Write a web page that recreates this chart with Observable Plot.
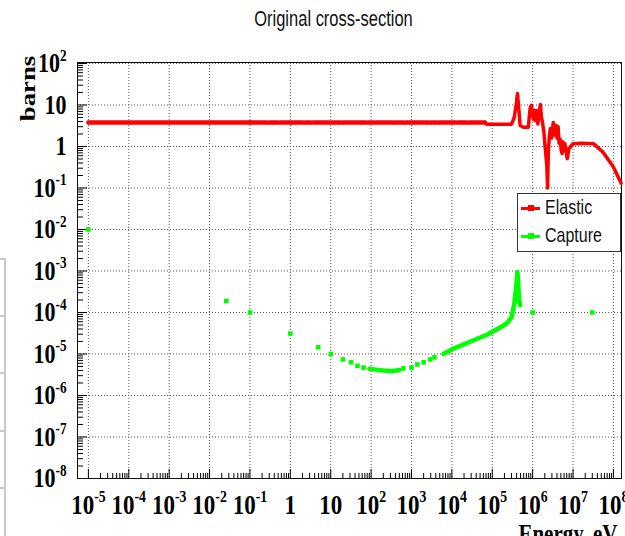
<!DOCTYPE html>
<html>
<head>
<meta charset="utf-8">
<script src="https://cdn.jsdelivr.net/npm/d3@7"></script>
<script src="https://cdn.jsdelivr.net/npm/@observablehq/plot@0.6"></script>
<style>
  html, body { margin: 0; padding: 0; background: #fff; overflow: hidden; }
  #wrap { position: relative; width: 625px; height: 536px; overflow: hidden; }
  #wrap svg { display: block; }
  .legend { position: absolute; left: 517px; top: 193px; width: 104px; height: 59px;
            box-sizing: border-box; border: 1px solid #333; background: #fff;
            font-family: "Liberation Sans", Arial, sans-serif; font-size: 16px; color: #111; }
  .legend .row { position: absolute; left: 0; height: 20px; width: 100%; }
  .legend .swatch { position: absolute; left: 3px; top: 9px; width: 19px; height: 3px; }
  .legend .mark { position: absolute; left: 10px; top: 7px; width: 6px; height: 6px; }
  .legend .lbl { position: absolute; left: 27px; top: 0; line-height: 20px;
                 transform: scaleY(1.22); transform-origin: left center; }
  .sliver { position: absolute; left: 0; top: 258px; width: 4px; height: 278px;
            border-right: 2px solid #c8c8c8; }
  .sliver i { position: absolute; left: 0; width: 5px; height: 2px; background: #c8c8c8; }
</style>
</head>
<body>
<div id="wrap">
  <div class="sliver"><i style="top:0"></i><i style="top:57px"></i><i style="top:114px"></i><i style="top:172px"></i><i style="top:229px"></i></div>
</div>
<script>
// Elastic scattering cross-section (barns) versus neutron energy (eV)
const elasticEnergy = [1e-5, 0.1, 6.6e4, 7.2e4, 3.0e5, 3.5e5, 4.0e5, 4.2e5, 4.5e5, 4.9e5, 5.9e5,
  7.8e5, 8.7e5, 9.3e5, 1.0e6, 1.05e6, 1.12e6, 1.18e6, 1.23e6, 1.35e6, 1.45e6, 1.55e6, 1.65e6, 1.74e6, 1.9e6, 2.04e6,
  2.24e6, 2.34e6, 2.45e6, 2.6e6, 2.75e6, 2.95e6, 3.24e6, 3.4e6, 3.55e6, 3.8e6, 4.0e6, 4.27e6, 4.5e6, 4.8e6, 5.1e6, 5.37e6,
  5.6e6, 5.9e6, 6.3e6, 6.7e6, 7.2e6, 7.9e6, 8.5e6, 1e7, 1.6e7, 3.2e7, 5.6e7, 1e8, 1.55e8];
const elasticSigma = [3.8, 3.8, 3.8, 3.45, 3.45, 5, 12, 19, 9, 3.2, 2.9,
  2.9, 8.7, 9.8, 5.5, 4.5, 7.5, 4.2, 7.4, 3.5, 6.5, 10.3, 5, 4, 2.2, 0.95,
  0.35, 0.1, 0.8, 1.8, 2.7, 1.6, 3.8, 1.9, 2.2, 3.2, 1.6, 3, 1.2, 1.5, 0.8, 0.68,
  1.3, 0.8, 1.17, 0.75, 0.51, 0.9, 0.95, 1.17, 1.2, 1.17, 0.72, 0.32, 0.13];

// Capture cross-section: isolated points
const captureDotEnergy = [1e-5, 0.026, 0.1, 1.0, 4.9, 10, 20, 32, 46, 65,
  630, 1000, 1400, 2000, 2900, 3700, 1e6, 3e7];
const captureDotSigma = [1e-2, 1.9e-4, 1e-4, 3.1e-5, 1.45e-5, 1e-5, 7.4e-6, 6.3e-6, 5.2e-6, 4.7e-6,
  4.5e-6, 4.7e-6, 5.6e-6, 6.3e-6, 7.4e-6, 8.3e-6, 1e-4, 1e-4];
// Capture cross-section: densely sampled stretches
const captureValleyEnergy = [90, 130, 200, 300, 420, 500];
const captureValleySigma = [4.4e-6, 4.2e-6, 4.0e-6, 3.9e-6, 4.0e-6, 4.1e-6];
const captureRiseEnergy = [6200, 1.1e4, 2.9e4, 7.6e4, 1.6e5, 2.3e5, 3.0e5, 3.5e5, 3.9e5, 4.2e5, 4.4e5, 4.6e5, 4.9e5];
const captureRiseSigma = [1.0e-5, 1.35e-5, 2.0e-5, 2.95e-5, 4.4e-5, 5.5e-5, 7.6e-5, 1.6e-4, 4e-4, 9.5e-4, 5e-4, 2e-4, 1.5e-4];

// Decade tick exponents
const xTickExponents = [-5, -4, -3, -2, -1, 0, 1, 2, 3, 4, 5, 6, 7, 8];
const yTickExponents = [-8, -7, -6, -5, -4, -3, -2, -1, 0, 1, 2];

const titleText = "Original cross-section";
const yTitle = "barns";
const xTitle = "Energy, eV";

const elastic = elasticEnergy.map((e, i) => ({energy: e, sigma: elasticSigma[i]}));
// the sparsely sampled plateau shows small breaks between its markers
const elasticLow = elastic.filter(d => d.energy <= 0.1);
const elasticPlateau = elastic.filter(d => d.energy >= 0.1 && d.energy <= 6.6e4);
const elasticHigh = elastic.filter(d => d.energy >= 6.6e4);
const captureDots = captureDotEnergy.map((e, i) => ({energy: e, sigma: captureDotSigma[i]}));
const captureCurve = [
  ...captureValleyEnergy.map((e, i) => ({energy: e, sigma: captureValleySigma[i], seg: "valley"})),
  ...captureRiseEnergy.map((e, i) => ({energy: e, sigma: captureRiseSigma[i], seg: "rise"}))
];

const xMajor = xTickExponents.map(k => 10 ** k);
const yMajor = yTickExponents.map(k => 10 ** k);
const minorOf = majors => majors.slice(0, -1).flatMap(m => [2, 3, 4, 5, 6, 7, 8, 9].map(f => m * f));
const xMinor = minorOf(xMajor);
const yMinor = minorOf(yMajor);

const powerLabel = v => {
  const k = Math.round(Math.log10(v));
  return k === 0 ? "1" : k === 1 ? "10" : `10^${k}`;
};

const W = 625, H = 536;
const M = {top: 62, right: 4, bottom: 58, left: 77};
const frameW = W - M.left - M.right;
const frameH = H - M.top - M.bottom;
const serif = "'Liberation Serif', 'Times New Roman', Times, serif";
const sans = "'Liberation Sans', Arial, Helvetica, sans-serif";
const RED = "#ff0000", GREEN = "#00ff00";

const chart = Plot.plot({
  width: W, height: H,
  marginTop: M.top, marginRight: M.right, marginBottom: M.bottom, marginLeft: M.left,
  style: {background: "white"},
  x: {type: "log", domain: [10 ** -5.27, 10 ** 8.2]},
  y: {type: "log", domain: [1e-8, 10 ** 2.024]},
  marks: [
    Plot.gridX(xMajor, {stroke: "#555", strokeOpacity: 1, strokeDasharray: "1,2"}),
    Plot.gridY(yMajor, {stroke: "#555", strokeOpacity: 1, strokeDasharray: "1,2"}),
    Plot.tickY(yMinor, {y: d => d, insetRight: frameW - 6, stroke: "#000"}),
    Plot.tickY(yMajor, {y: d => d, insetRight: frameW - 10, stroke: "#000"}),
    Plot.tickX(xMinor, {x: d => d, insetTop: frameH - 5, stroke: "#000"}),
    Plot.tickX(xMajor, {x: d => d, insetTop: frameH - 9, stroke: "#000"}),
    Plot.frame({stroke: "#111"}),
    Plot.axisY(yMajor, {tickSize: 0, tickPadding: 11, tickFormat: powerLabel, label: null,
      fontSize: 22, fontWeight: "bold", fontFamily: serif, fill: "#000"}),
    Plot.axisX(xMajor, {tickSize: 0, tickPadding: 16, tickFormat: powerLabel, label: null,
      fontSize: 23, fontWeight: "bold", fontFamily: serif, fill: "#000"}),
    Plot.line(elasticLow, {x: "energy", y: "sigma", stroke: RED, strokeWidth: 4.5}),
    Plot.line(elasticPlateau, {x: "energy", y: "sigma", stroke: RED, strokeWidth: 4.5, strokeDasharray: "17,2,9,2,23,2,6,2"}),
    Plot.line(elasticHigh, {x: "energy", y: "sigma", stroke: RED, strokeWidth: 3.5, strokeLinejoin: "round"}),
    Plot.line(captureCurve, {x: "energy", y: "sigma", z: "seg", stroke: GREEN, strokeWidth: 4.5, strokeLinejoin: "round"}),
    Plot.dot(captureDots, {x: "energy", y: "sigma", symbol: "square", r: 2.6, fill: GREEN, stroke: null}),
    Plot.text([titleText], {frameAnchor: "top", dx: -16, dy: -43, lineAnchor: "middle", fontSize: 16.5,
      fontFamily: sans, fill: "#111"}),
    Plot.text([yTitle], {frameAnchor: "top-left", dx: -50, dy: 26, rotate: -90, textAnchor: "middle",
      lineAnchor: "middle", fontSize: 22, fontWeight: "bold", fontFamily: serif, fill: "#000"}),
    Plot.text([xTitle], {frameAnchor: "bottom-right", dx: -4, dy: 45, textAnchor: "end", lineAnchor: "top",
      fontSize: 21, fontWeight: "bold", fontFamily: serif, fill: "#000"})
  ]
});

// Power-of-ten labels: "10" with a raised exponent
const SVGNS = "http://www.w3.org/2000/svg";
chart.querySelectorAll("text").forEach(t => {
  const m = /^10\^(.+)$/.exec(t.textContent);
  if (!m) return;
  t.textContent = "10";
  const sup = document.createElementNS(SVGNS, "tspan");
  sup.setAttribute("font-size", "0.6em");
  sup.setAttribute("dy", "-0.72em");
  sup.textContent = m[1];
  t.appendChild(sup);
});

// Tall, narrow lettering: stretch every label along its vertical direction
const STRETCH = 1.22;
chart.querySelectorAll("text").forEach(t => {
  const tr = t.getAttribute("transform");
  if (tr == null) return;
  const s = t.textContent === titleText ? 1.32 : STRETCH;
  t.setAttribute("transform", tr + (tr.includes("rotate") ? ` scale(${s},1)` : ` scale(1,${s})`));
});

const wrap = document.getElementById("wrap");
wrap.insertBefore(chart, wrap.firstChild);

// Legend
const legend = document.createElement("div");
legend.className = "legend";
[["Elastic", RED, 4], ["Capture", GREEN, 32]].forEach(([name, color, top]) => {
  const row = document.createElement("div");
  row.className = "row";
  row.style.top = top + "px";
  row.innerHTML = `<span class="swatch" style="background:${color}"></span>` +
    `<span class="mark" style="background:${color}"></span><span class="lbl">${name}</span>`;
  legend.appendChild(row);
});
wrap.appendChild(legend);
</script>
</body>
</html>
